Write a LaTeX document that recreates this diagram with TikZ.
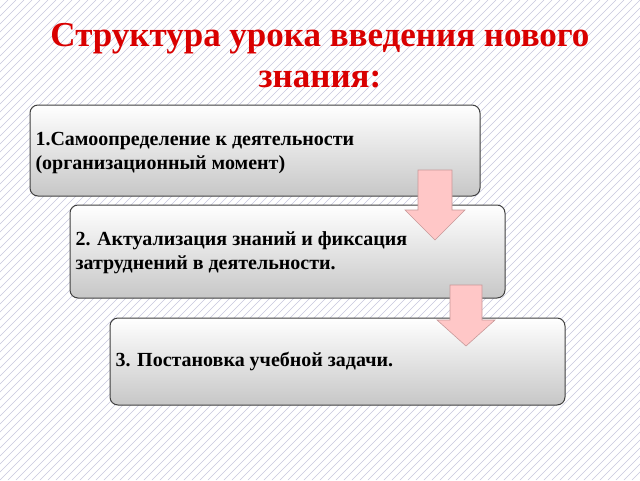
\documentclass[tikz,border=0pt]{standalone}
\usepackage{fontspec}
\setmainfont{Liberation Serif}
\begin{document}
\begin{tikzpicture}[x=1pt,y=-1pt,
  stagebox/.style={draw=black!75,line width=1pt,rounded corners=8pt,top color=white,bottom color=black!22},
  arr/.style={draw=red!45!black!40,fill=red!22,line width=0.6pt},
  txt/.style={anchor=west,align=left,font=\bfseries\fontsize{20}{24}\selectfont}]
\useasboundingbox (0,0) rectangle (640,480);
\fill[white] (0,0) rectangle (640,480);
\begin{scope}
\clip (0,0) rectangle (640,480);
\foreach \i in {0,8,...,1130}{\draw[blue!25!gray!35,line width=0.6pt] (\i,0) -- ++(-480,480);}
\end{scope}
\node[font=\bfseries\fontsize{35}{41}\selectfont,text=red!85!black,align=center] (title) at (320,56) {Структура урока введения нового\\знания:};
\draw[stagebox] (30,105) rectangle (480,196);
\node[txt] (t1) at (32,153) {1.Самоопределение к деятельности\\(организационный момент)};
\draw[stagebox] (70,205) rectangle (505,298);
\node[txt] (t2) at (72,253) {2. Актуализация знаний и фиксация\\затруднений в деятельности.};
\draw[stagebox] (110,318) rectangle (565,405);
\node[txt] (t3) at (112,361) {3. Постановка учебной задачи.};
\draw[arr] (418,170) -- (452,170) -- (452,210) -- (465,210) -- (435,240) -- (405,210) -- (418,210) -- cycle;
\draw[arr] (450,285) -- (482,285) -- (482,320) -- (495,320) -- (466,346) -- (437,320) -- (450,320) -- cycle;
\end{tikzpicture}
\end{document}
